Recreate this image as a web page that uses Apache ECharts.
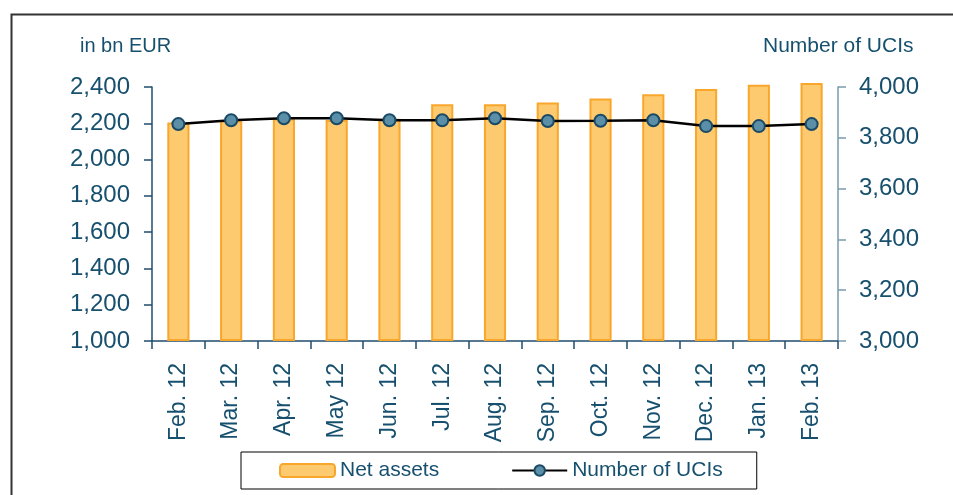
<!DOCTYPE html>
<html>
<head>
<meta charset="utf-8">
<script src="https://cdn.jsdelivr.net/npm/echarts@6/dist/echarts.min.js"></script>
<style>html,body{margin:0;padding:0;background:#fff}#c{width:953px;height:495px}</style>
</head>
<body>
<div id="c"></div>
<script>
const categories = ['Feb. 12','Mar. 12','Apr. 12','May 12','Jun. 12','Jul. 12','Aug. 12','Sep. 12','Oct. 12','Nov. 12','Dec. 12','Jan. 13','Feb. 13'];
const netAssets = [2205, 2216, 2227, 2218, 2225, 2305, 2305, 2314, 2336, 2360, 2389, 2413, 2422];
const numberOfUCIs = [3854, 3869, 3877, 3877, 3869, 3869, 3877, 3866, 3867, 3869, 3846, 3846, 3854];
const leftTicks = {min: 1000, max: 2400, interval: 200};
const rightTicks = {min: 3000, max: 4000, interval: 200};

const txt = '#17506E';
const ff = 'Liberation Sans, Arial, sans-serif';
const fmt = v => v.toLocaleString('en-US');
// bars start at the axis minimum (like the original), so stack them on an invisible base
const baseVals = categories.map(() => leftTicks.min);
const barVals = netAssets.map(v => v - leftTicks.min);

const chart = echarts.init(document.getElementById('c'));
chart.setOption({
  animation: false,
  textStyle: {fontFamily: ff},
  grid: {left: 152, right: 115, top: 87, bottom: 154},
  legend: {
    left: 241, top: 452, padding: [8, 34, 8, 38],
    borderColor: '#000', borderWidth: 1,
    itemWidth: 55, itemHeight: 13, itemGap: 72,
    textStyle: {color: txt, fontSize: 21, fontFamily: ff},
    data: ['Net assets', 'Number of UCIs']
  },
  tooltip: {show: false},
  xAxis: {
    type: 'category', data: categories, boundaryGap: true,
    axisLine: {lineStyle: {color: '#1f4e6e', width: 1.5}},
    axisTick: {show: true, length: 8, lineStyle: {color: '#1f4e6e', width: 1.5}},
    axisLabel: {rotate: 90, margin: 22, color: txt, fontSize: 23, interval: 0}
  },
  yAxis: [{
    type: 'value', min: leftTicks.min, max: leftTicks.max, interval: leftTicks.interval,
    axisLine: {show: true, lineStyle: {color: '#1f4e6e', width: 1.5}},
    axisTick: {show: true, length: 8, lineStyle: {color: '#1f4e6e', width: 1.5}},
    splitLine: {show: false},
    axisLabel: {color: txt, fontSize: 24, margin: 22, formatter: fmt}
  }, {
    type: 'value', min: rightTicks.min, max: rightTicks.max, interval: rightTicks.interval,
    position: 'right',
    axisLine: {show: true, lineStyle: {color: '#7a9aad', width: 1.5}},
    axisTick: {show: true, length: 8, lineStyle: {color: '#7a9aad', width: 1.5}},
    splitLine: {show: false},
    axisLabel: {color: txt, fontSize: 24, margin: 21, formatter: fmt}
  }],
  series: [{
    name: 'base', type: 'bar', stack: 'na', data: baseVals, barWidth: '42%', clip: false, silent: true,
    itemStyle: {color: 'rgba(0,0,0,0)'}, z: 1
  }, {
    name: 'Net assets', type: 'bar', stack: 'na', data: barVals, barWidth: '42%', clip: false,
    itemStyle: {color: '#FDCA6F', borderColor: '#F9A72C', borderWidth: 2}
  }, {
    name: 'Number of UCIs', type: 'line', yAxisIndex: 1, data: numberOfUCIs,
    symbol: 'circle', symbolSize: 12,
    lineStyle: {color: '#000', width: 2.5},
    itemStyle: {color: '#5B8FA8', borderColor: '#1a4a66', borderWidth: 2}
  }],
  graphic: [
    {type: 'rect', left: 9, top: 12, shape: {width: 960, height: 500}, style: {fill: 'none', stroke: '#333', lineWidth: 2}, silent: true},
    {type: 'text', left: 80, top: 36, style: {text: 'in bn EUR', fill: txt, fontSize: 20, fontFamily: ff}},
    {type: 'text', left: 763, top: 36, style: {text: 'Number of UCIs', fill: txt, fontSize: 21, fontFamily: ff}}
  ]
});
</script>
</body>
</html>
